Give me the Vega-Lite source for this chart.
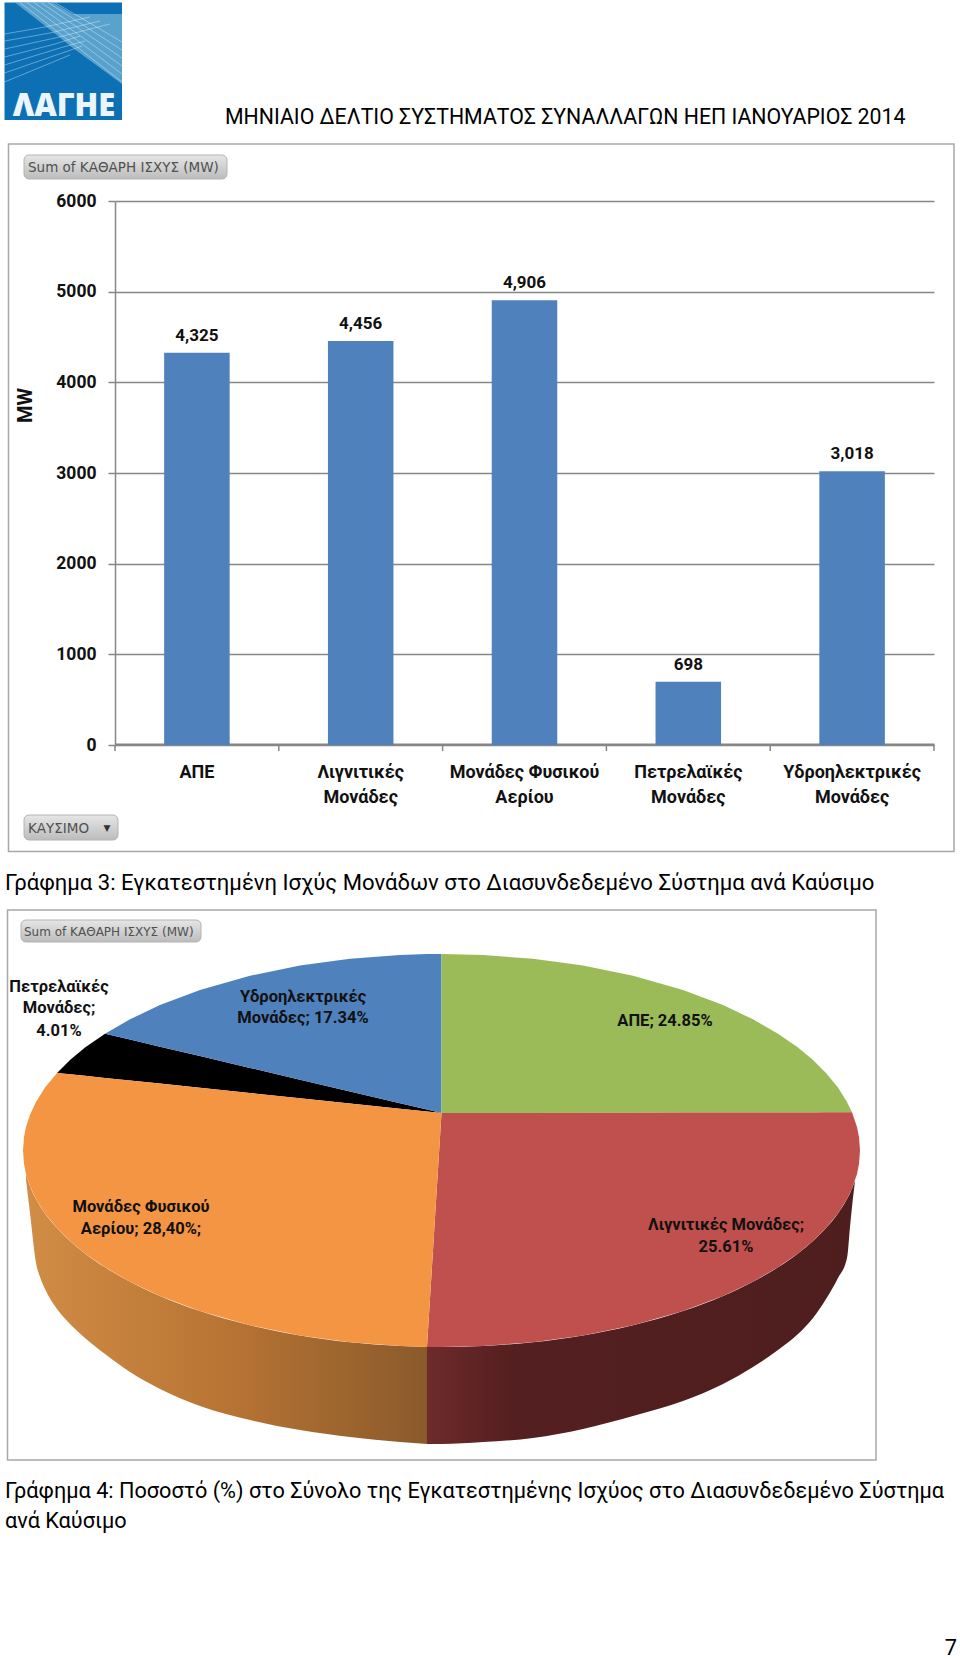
{
"$schema":"https://vega.github.io/schema/vega-lite/v6.json",
"width":960,"height":1659,"padding":0,"background":"white",
"autosize":{"type":"fit","contains":"padding"},
"config":{"view":{"stroke":null},"font":"Roboto"},
"layer":[
{"encoding":{
  "x":{"field":"across","type":"quantitative","scale":{"domain":[0,960],"range":[0,960],"nice":false,"zero":false},"axis":null},
  "y":{"field":"down","type":"quantitative","stack":null,"scale":{"domain":[0,1659],"range":[0,1659],"nice":false,"zero":false},"axis":null}},
 "layer":[
  {"data":{"values":[
    {"name":"bar frame","across":8.5,"across2":954,"down":144,"down2":851.5},
    {"name":"pie frame","across":7.5,"across2":876,"down":910,"down2":1460}]},
   "mark":{"type":"rect","fill":null,"stroke":"#a8a8a8","strokeWidth":1.5},
   "encoding":{"x2":{"field":"across2"},"y2":{"field":"down2"}}},
  {"data":{"values":[
    {"across":115,"down":745,"down2":751},{"across":278.8,"down":745,"down2":751},{"across":442.6,"down":745,"down2":751},{"across":606.4,"down":745,"down2":751},{"across":770.2,"down":745,"down2":751},{"across":934,"down":745,"down2":751}]},
   "mark":{"type":"rule","stroke":"#868686","strokeWidth":1.5},
   "encoding":{"y2":{"field":"down2"}}},
  {"data":{"values":[{"name":"logo","across":4.5,"across2":122,"down":2.5,"down2":120}]},
   "mark":{"type":"rect","fill":"#0d70b4"},
   "encoding":{"x2":{"field":"across2"},"y2":{"field":"down2"}}},
  {"data":{"values":[
    {"across":15,"down":2.5,"down2":2.5},{"across":53,"down":2.5,"down2":32},{"across":73,"down":14,"down2":48},{"across":122,"down":14,"down2":84}]},
   "mark":{"type":"area","fill":"#8cc3e0","opacity":0.6},
   "encoding":{"y2":{"field":"down2"}}},
  {"data":{"values":[
    {"ray":"a1","across":4.5,"down":34},{"ray":"a1","across":45,"down":27},{"ray":"a1","across":90,"down":17},
    {"ray":"a2","across":4.5,"down":41},{"ray":"a2","across":50,"down":33},{"ray":"a2","across":100,"down":21},
    {"ray":"a3","across":4.5,"down":49},{"ray":"a3","across":55,"down":38},{"ray":"a3","across":110,"down":24},
    {"ray":"a4","across":4.5,"down":57},{"ray":"a4","across":55,"down":44},{"ray":"a4","across":80,"down":36},
    {"ray":"a5","across":4.5,"down":65},{"ray":"a5","across":60,"down":48},{"ray":"a5","across":85,"down":41},
    {"ray":"a6","across":4.5,"down":73},{"ray":"a6","across":65,"down":52},{"ray":"a6","across":82,"down":46},
    {"ray":"a7","across":4.5,"down":82},{"ray":"a7","across":70,"down":55},
    {"ray":"b1","across":20,"down":2.5},{"ray":"b1","across":122,"down":82},
    {"ray":"b2","across":27,"down":2.5},{"ray":"b2","across":122,"down":74},
    {"ray":"b3","across":34,"down":2.5},{"ray":"b3","across":122,"down":66},
    {"ray":"b4","across":41,"down":2.5},{"ray":"b4","across":122,"down":58},
    {"ray":"b5","across":48,"down":2.5},{"ray":"b5","across":122,"down":50},
    {"ray":"b6","across":55,"down":2.5},{"ray":"b6","across":122,"down":42}]},
   "mark":{"type":"line","stroke":"#ffffff","strokeWidth":0.8,"opacity":0.45},
   "encoding":{"detail":{"field":"ray"}}},
  {"data":{"values":[{"text":"ΛΑΓΗΕ","across":64,"down":116}]},
   "mark":{"type":"text","font":"Open Sans","fontWeight":800,"fontSize":31,"fill":"#eaf6fb","align":"center","baseline":"alphabetic"},
   "encoding":{"text":{"field":"text"}}},
  {"data":{"values":[
    {"name":"bar metric","across":24,"across2":227,"down":155,"down2":179},
    {"name":"bar field","across":24,"across2":118,"down":815,"down2":840},
    {"name":"pie metric","across":21,"across2":201,"down":920,"down2":942}]},
   "mark":{"type":"rect","cornerRadius":5,"stroke":"#b4b4b4","strokeWidth":1,
     "fill":{"gradient":"linear","x1":0,"y1":0,"x2":0,"y2":1,"stops":[{"offset":0,"color":"#e6e6e6"},{"offset":1,"color":"#bcbcbc"}]}},
   "encoding":{"x2":{"field":"across2"},"y2":{"field":"down2"}}},
  {"data":{"values":[
    {"text":"Sum of ΚΑΘΑΡΗ ΙΣΧΥΣ (MW)","across":28,"down":172},
    {"text":"ΚΑΥΣΙΜΟ","across":28,"down":833}]},
   "mark":{"type":"text","font":"DejaVu Sans","fontSize":13.5,"fill":"#505050","align":"left","baseline":"alphabetic"},
   "encoding":{"text":{"field":"text"}}},
  {"data":{"values":[{"text":"Sum of ΚΑΘΑΡΗ ΙΣΧΥΣ (MW)","across":24,"down":936}]},
   "mark":{"type":"text","font":"DejaVu Sans","fontSize":12,"fill":"#505050","align":"left","baseline":"alphabetic"},
   "encoding":{"text":{"field":"text"}}},
  {"data":{"values":[{"text":"▼","across":107,"down":831}]},
   "mark":{"type":"text","font":"DejaVu Sans","fontSize":9,"fill":"#333333","align":"center","baseline":"alphabetic"},
   "encoding":{"text":{"field":"text"}}},
  {"data":{"values":[
    {"across":26,"down":1174,"down2":1180},{"across":30,"down":1186.3,"down2":1213},{"across":36,"down":1199.1,"down2":1263},{"across":40,"down":1206,"down2":1277},{"across":45,"down":1213.4,"down2":1289},{"across":57,"down":1228.1,"down2":1309},{"across":70,"down":1241,"down2":1324},{"across":85,"down":1253.4,"down2":1338},{"across":105,"down":1267.3,"down2":1354},{"across":130,"down":1281.7,"down2":1372},{"across":160,"down":1295.9,"down2":1389},{"across":200,"down":1311,"down2":1406},{"across":250,"down":1325.2,"down2":1420},{"across":300,"down":1335.4,"down2":1430},{"across":350,"down":1342.2,"down2":1437},{"across":400,"down":1346,"down2":1442},{"across":427,"down":1346.9,"down2":1444}]},
   "mark":{"type":"area","interpolate":"monotone","fill":{"gradient":"linear","x1":0,"y1":0,"x2":1,"y2":0,"stops":[{"offset":0,"color":"#d18c45"},{"offset":0.5,"color":"#b87434"},{"offset":1,"color":"#8a5a2b"}]}},
   "encoding":{"y2":{"field":"down2"}}},
  {"data":{"values":[
    {"across":427,"down":1346.9,"down2":1444},{"across":441.5,"down":1347,"down2":1444},{"across":483,"down":1346,"down2":1442},{"across":533,"down":1342.2,"down2":1438},{"across":583,"down":1335.4,"down2":1429},{"across":633,"down":1325.2,"down2":1416},{"across":683,"down":1311,"down2":1401},{"across":723,"down":1295.9,"down2":1384},{"across":753,"down":1281.7,"down2":1367},{"across":778,"down":1267.3,"down2":1350},{"across":798,"down":1253.4,"down2":1334},{"across":813,"down":1241,"down2":1318},{"across":826,"down":1228.1,"down2":1299},{"across":838,"down":1213.4,"down2":1278},{"across":847,"down":1199.1,"down2":1258},{"across":850,"down":1193.2,"down2":1227},{"across":852,"down":1188.7,"down2":1207},{"across":855,"down":1180.8,"down2":1181}]},
   "mark":{"type":"area","interpolate":"monotone","fill":{"gradient":"linear","x1":0,"y1":0,"x2":1,"y2":0,"stops":[{"offset":0,"color":"#6e2a2c"},{"offset":0.2,"color":"#541f20"},{"offset":1,"color":"#4e1e1e"}]}},
   "encoding":{"y2":{"field":"down2"}}},
  {"data":{"values":[
    {"slice":"Πετρελαϊκές Μονάδες","across":57,"down":1072.9,"down2":1072.9},{"slice":"Πετρελαϊκές Μονάδες","across":70,"down":1060,"down2":1074.3},{"slice":"Πετρελαϊκές Μονάδες","across":85,"down":1047.6,"down2":1075.8},{"slice":"Πετρελαϊκές Μονάδες","across":105,"down":1033.7,"down2":1077.9},{"slice":"Πετρελαϊκές Μονάδες","across":130,"down":1039.6,"down2":1080.5},{"slice":"Πετρελαϊκές Μονάδες","across":160,"down":1046.7,"down2":1083.6},{"slice":"Πετρελαϊκές Μονάδες","across":200,"down":1056.1,"down2":1087.8},{"slice":"Πετρελαϊκές Μονάδες","across":250,"down":1067.9,"down2":1093},{"slice":"Πετρελαϊκές Μονάδες","across":300,"down":1079.7,"down2":1098.2},{"slice":"Πετρελαϊκές Μονάδες","across":350,"down":1091.4,"down2":1103.5},{"slice":"Πετρελαϊκές Μονάδες","across":400,"down":1103.2,"down2":1108.7},{"slice":"Πετρελαϊκές Μονάδες","across":427,"down":1109.6,"down2":1111.5},{"slice":"Πετρελαϊκές Μονάδες","across":441.5,"down":1113,"down2":1113},
    {"slice":"Υδροηλεκτρικές Μονάδες","across":105,"down":1033.7,"down2":1033.7},{"slice":"Υδροηλεκτρικές Μονάδες","across":130,"down":1019.3,"down2":1039.6},{"slice":"Υδροηλεκτρικές Μονάδες","across":160,"down":1005.1,"down2":1046.7},{"slice":"Υδροηλεκτρικές Μονάδες","across":200,"down":990,"down2":1056.1},{"slice":"Υδροηλεκτρικές Μονάδες","across":250,"down":975.8,"down2":1067.9},{"slice":"Υδροηλεκτρικές Μονάδες","across":300,"down":965.6,"down2":1079.7},{"slice":"Υδροηλεκτρικές Μονάδες","across":350,"down":958.8,"down2":1091.4},{"slice":"Υδροηλεκτρικές Μονάδες","across":400,"down":955,"down2":1103.2},{"slice":"Υδροηλεκτρικές Μονάδες","across":427,"down":954.1,"down2":1109.6},{"slice":"Υδροηλεκτρικές Μονάδες","across":441.5,"down":954,"down2":1113},
    {"slice":"ΑΠΕ","across":441.5,"down":954,"down2":1113},{"slice":"ΑΠΕ","across":483,"down":955,"down2":1113},{"slice":"ΑΠΕ","across":533,"down":958.8,"down2":1112.9},{"slice":"ΑΠΕ","across":583,"down":965.6,"down2":1112.8},{"slice":"ΑΠΕ","across":633,"down":975.8,"down2":1112.7},{"slice":"ΑΠΕ","across":683,"down":990,"down2":1112.6},{"slice":"ΑΠΕ","across":723,"down":1005.1,"down2":1112.5},{"slice":"ΑΠΕ","across":753,"down":1019.3,"down2":1112.5},{"slice":"ΑΠΕ","across":778,"down":1033.7,"down2":1112.4},{"slice":"ΑΠΕ","across":798,"down":1047.6,"down2":1112.4},{"slice":"ΑΠΕ","across":813,"down":1060,"down2":1112.4},{"slice":"ΑΠΕ","across":826,"down":1072.9,"down2":1112.3},{"slice":"ΑΠΕ","across":838,"down":1087.6,"down2":1112.3},{"slice":"ΑΠΕ","across":847,"down":1101.9,"down2":1112.3},{"slice":"ΑΠΕ","across":852,"down":1112.3,"down2":1112.3},
    {"slice":"Λιγνιτικές Μονάδες","across":427,"down":1347,"down2":1347},{"slice":"Λιγνιτικές Μονάδες","across":441.5,"down":1113,"down2":1347},{"slice":"Λιγνιτικές Μονάδες","across":483,"down":1113,"down2":1346},{"slice":"Λιγνιτικές Μονάδες","across":533,"down":1112.9,"down2":1342.2},{"slice":"Λιγνιτικές Μονάδες","across":583,"down":1112.8,"down2":1335.4},{"slice":"Λιγνιτικές Μονάδες","across":633,"down":1112.7,"down2":1325.2},{"slice":"Λιγνιτικές Μονάδες","across":683,"down":1112.6,"down2":1311},{"slice":"Λιγνιτικές Μονάδες","across":723,"down":1112.5,"down2":1295.9},{"slice":"Λιγνιτικές Μονάδες","across":753,"down":1112.5,"down2":1281.7},{"slice":"Λιγνιτικές Μονάδες","across":778,"down":1112.4,"down2":1267.3},{"slice":"Λιγνιτικές Μονάδες","across":798,"down":1112.4,"down2":1253.4},{"slice":"Λιγνιτικές Μονάδες","across":813,"down":1112.4,"down2":1241},{"slice":"Λιγνιτικές Μονάδες","across":826,"down":1112.3,"down2":1228.1},{"slice":"Λιγνιτικές Μονάδες","across":838,"down":1112.3,"down2":1213.4},{"slice":"Λιγνιτικές Μονάδες","across":847,"down":1112.3,"down2":1199.1},{"slice":"Λιγνιτικές Μονάδες","across":852,"down":1112.3,"down2":1188.7},{"slice":"Λιγνιτικές Μονάδες","across":857,"down":1127,"down2":1174},{"slice":"Λιγνιτικές Μονάδες","across":859,"down":1136.9,"down2":1164.1},{"slice":"Λιγνιτικές Μονάδες","across":860,"down":1150.5,"down2":1150.5},
    {"slice":"Μονάδες Φυσικού Αερίου","across":23,"down":1150.5,"down2":1150.5},{"slice":"Μονάδες Φυσικού Αερίου","across":24,"down":1136.9,"down2":1164.1},{"slice":"Μονάδες Φυσικού Αερίου","across":26,"down":1127,"down2":1174},{"slice":"Μονάδες Φυσικού Αερίου","across":30,"down":1114.7,"down2":1186.3},{"slice":"Μονάδες Φυσικού Αερίου","across":36,"down":1101.9,"down2":1199.1},{"slice":"Μονάδες Φυσικού Αερίου","across":45,"down":1087.6,"down2":1213.4},{"slice":"Μονάδες Φυσικού Αερίου","across":57,"down":1072.9,"down2":1228.1},{"slice":"Μονάδες Φυσικού Αερίου","across":70,"down":1074.3,"down2":1241},{"slice":"Μονάδες Φυσικού Αερίου","across":85,"down":1075.8,"down2":1253.4},{"slice":"Μονάδες Φυσικού Αερίου","across":105,"down":1077.9,"down2":1267.3},{"slice":"Μονάδες Φυσικού Αερίου","across":130,"down":1080.5,"down2":1281.7},{"slice":"Μονάδες Φυσικού Αερίου","across":160,"down":1083.6,"down2":1295.9},{"slice":"Μονάδες Φυσικού Αερίου","across":200,"down":1087.8,"down2":1311},{"slice":"Μονάδες Φυσικού Αερίου","across":250,"down":1093,"down2":1325.2},{"slice":"Μονάδες Φυσικού Αερίου","across":300,"down":1098.2,"down2":1335.4},{"slice":"Μονάδες Φυσικού Αερίου","across":350,"down":1103.5,"down2":1342.2},{"slice":"Μονάδες Φυσικού Αερίου","across":400,"down":1108.7,"down2":1346},{"slice":"Μονάδες Φυσικού Αερίου","across":427,"down":1111.5,"down2":1347},{"slice":"Μονάδες Φυσικού Αερίου","across":441.5,"down":1113,"down2":1113}]},
   "mark":{"type":"area"},
   "encoding":{"y2":{"field":"down2"},
     "color":{"field":"slice","type":"nominal","legend":null,"scale":{"domain":["ΑΠΕ","Λιγνιτικές Μονάδες","Μονάδες Φυσικού Αερίου","Πετρελαϊκές Μονάδες","Υδροηλεκτρικές Μονάδες"],"range":["#9bbb59","#c0504d","#f49544","#000000","#4f81bd"]}}}},
  {"data":{"values":[
    {"text":"Πετρελαϊκές","across":59,"down":987},{"text":"Μονάδες;","across":59,"down":1008},{"text":"4.01%","across":59,"down":1031},
    {"text":"Υδροηλεκτρικές","across":303,"down":997},{"text":"Μονάδες; 17.34%","across":303,"down":1018},
    {"text":"ΑΠΕ; 24.85%","across":665,"down":1021},
    {"text":"Μονάδες Φυσικού","across":141,"down":1207},{"text":"Αερίου; 28,40%;","across":141,"down":1229},
    {"text":"Λιγνιτικές Μονάδες;","across":726,"down":1225},{"text":"25.61%","across":726,"down":1247}]},
   "mark":{"type":"text","fontWeight":"bold","fontSize":16.5,"fill":"#111111","align":"center","baseline":"middle"},
   "encoding":{"text":{"field":"text"}}},
  {"data":{"values":[
    {"text":"ΜΗΝΙΑΙΟ ΔΕΛΤΙΟ ΣΥΣΤΗΜΑΤΟΣ ΣΥΝΑΛΛΑΓΩΝ ΗΕΠ ΙΑΝΟΥΑΡΙΟΣ 2014","across":225,"down":124}]},
   "mark":{"type":"text","fontSize":21.3,"fill":"#000000","align":"left","baseline":"alphabetic"},
   "encoding":{"text":{"field":"text"}}},
  {"data":{"values":[
    {"text":"Γράφημα 3: Εγκατεστημένη Ισχύς Μονάδων στο Διασυνδεδεμένο Σύστημα ανά Καύσιμο","across":5,"down":890}]},
   "mark":{"type":"text","fontSize":22.1,"fill":"#000000","align":"left","baseline":"alphabetic"},
   "encoding":{"text":{"field":"text"}}},
  {"data":{"values":[
    {"text":"Γράφημα 4: Ποσοστό (%) στο Σύνολο της Εγκατεστημένης Ισχύος στο Διασυνδεδεμένο Σύστημα","across":5,"down":1498},
    {"text":"ανά Καύσιμο","across":5,"down":1528}]},
   "mark":{"type":"text","fontSize":21.7,"fill":"#000000","align":"left","baseline":"alphabetic"},
   "encoding":{"text":{"field":"text"}}},
  {"data":{"values":[{"text":"7","across":957,"down":1655}]},
   "mark":{"type":"text","fontSize":21.8,"fill":"#000000","align":"right","baseline":"alphabetic"},
   "encoding":{"text":{"field":"text"}}}
 ]},
{"data":{"values":[
   {"fuel":"ΑΠΕ","mw":4325},
   {"fuel":"Λιγνιτικές Μονάδες","mw":4456},
   {"fuel":"Μονάδες Φυσικού Αερίου","mw":4906},
   {"fuel":"Πετρελαϊκές Μονάδες","mw":698},
   {"fuel":"Υδροηλεκτρικές Μονάδες","mw":3018}]},
 "encoding":{
  "x":{"field":"fuel","type":"nominal","sort":null,
    "scale":{"type":"band","range":[115,934],"paddingInner":0.6,"paddingOuter":0.3},
    "axis":{"orient":"bottom","offset":-914,"title":null,"labelAngle":0,"labelAlign":"center","labelBaseline":"middle","labelFont":"Roboto","labelFontWeight":"bold","labelFontSize":18,"labelColor":"#111111","labelPadding":28,"labelLineHeight":25,
      "labelExpr":"!isValid(datum.value) ? '' : datum.value == 'Μονάδες Φυσικού Αερίου' ? ['Μονάδες Φυσικού','Αερίου'] : split(datum.value,' ')",
      "ticks":false,"domainColor":"#868686","domainWidth":2,"grid":false,"labelOverlap":false}},
  "y":{"field":"mw","type":"quantitative","stack":null,
    "scale":{"domain":[0,6000],"range":[745,201],"nice":false},
    "axis":{"orient":"left","offset":-115,"values":[0,1000,2000,3000,4000,5000,6000],"format":"d","title":"MW","titleFont":"Roboto","titleFontWeight":"bold","titleFontSize":20,"titleColor":"#111111","titleX":-80,"titleY":405,"titleAngle":270,"labelFont":"Roboto","labelFontWeight":"bold","labelFontSize":17.5,"labelColor":"#111111","labelPadding":12,"tickSize":7,"tickColor":"#868686","tickWidth":1.5,"domainColor":"#868686","domainWidth":1.5,"grid":true,"gridColor":"#868686","gridWidth":1.5}}},
 "layer":[
  {"mark":{"type":"bar","fill":"#4f81bd"}},
  {"mark":{"type":"text","font":"Roboto","fontWeight":"bold","fontSize":17,"fill":"#111111","dy":-17},
   "encoding":{"text":{"field":"mw","format":","}}}
 ]}
],
"resolve":{"scale":{"x":"independent","y":"independent"},"axis":{"x":"independent","y":"independent"}}
}
